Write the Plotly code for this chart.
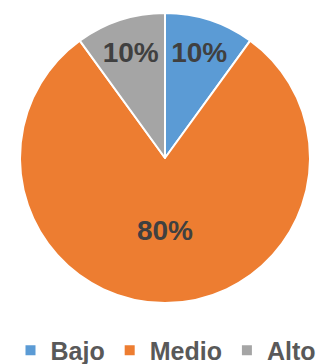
import plotly.graph_objects as go

# Data
labels = ['Bajo', 'Medio', 'Alto']
values = [10, 80, 10]
colors = ['#5B9BD5', '#ED7D31', '#A5A5A5']

W, H = 332, 364
FONT = 'Liberation Sans, Arial, sans-serif'

fig = go.Figure()
fig.add_trace(go.Pie(
    labels=labels,
    values=values,
    sort=False,
    direction='clockwise',
    rotation=0,
    marker=dict(colors=colors, line=dict(color='white', width=2)),
    texttemplate='%{percent:.0%}',
    textposition='inside',
    insidetextorientation='horizontal',
    textfont=dict(family=FONT, size=28, color='#404040', weight='bold'),
    domain=dict(x=[20 / W, 310 / W], y=[61 / H, 351 / H]),
    hoverinfo='label+percent',
))

fig.update_layout(
    width=W, height=H,
    margin=dict(l=0, r=0, t=0, b=0, autoexpand=False),
    paper_bgcolor='white',
    plot_bgcolor='white',
    uniformtext=dict(minsize=28, mode='show'),
    legend=dict(
        orientation='h',
        x=0.5, xanchor='center',
        y=0.1, yanchor='top',
        font=dict(family=FONT, size=25, color='#595959', weight='bold'),
        itemwidth=30,
        traceorder='normal',
    ),
)

# remove the page's default body margin so the figure sits at (0, 0)
fig.write_html("out.html", config={'displayModeBar': False},
               post_script="document.body.style.margin='0';")
